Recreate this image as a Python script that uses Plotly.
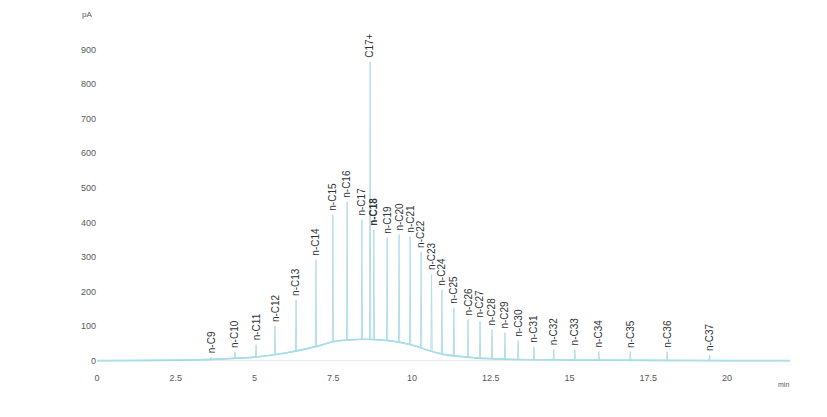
import numpy as np
import plotly.graph_objects as go

# Retention times (min), peak heights (pA) and peak names
peak_names = ["n-C9", "n-C10", "n-C11", "n-C12", "n-C13", "n-C14", "n-C15", "n-C16",
              "n-C17", "C17+", "n-C18", "n-C19", "n-C20", "n-C21", "n-C22", "n-C23",
              "n-C24", "n-C25", "n-C26", "n-C27", "n-C28", "n-C29", "n-C30", "n-C31",
              "n-C32", "n-C33", "n-C34", "n-C35", "n-C36", "n-C37"]
peak_times = [3.62, 4.38, 5.05, 5.65, 6.32, 6.95, 7.49, 7.94,
              8.41, 8.67, 8.79, 9.21, 9.59, 9.94, 10.29, 10.62,
              10.95, 11.33, 11.78, 12.16, 12.54, 12.95, 13.37, 13.87,
              14.50, 15.17, 15.93, 16.93, 18.10, 19.45]
peak_heights = [10, 25, 46, 100, 176, 292, 422, 460,
                408, 865, 378, 356, 365, 359, 315, 249,
                205, 153, 119, 113, 90, 81, 58, 40,
                32, 32, 26, 26, 26, 15]

# Unresolved complex mixture hump under the peaks
ucm_times = [0, 3, 4, 5, 6, 7, 7.5, 8, 8.5, 9, 9.5, 10, 10.5, 11, 12, 13, 15, 20, 22]
ucm_values = [0, 2, 5, 10, 22, 42, 55, 60, 62, 60, 55, 45, 30, 18, 8, 4, 2, 0, 0]

x_ticks = [0, 2.5, 5, 7.5, 10, 12.5, 15, 17.5, 20]
x_tick_text = ["0", "2.5", "5", "7.5", "10", "12.5", "15", "17.5", "20"]
y_ticks = [0, 100, 200, 300, 400, 500, 600, 700, 800, 900]

# Build the chromatogram trace: narrow peaks riding on the hump
half_width = 0.02
sig_t, sig_y = [0.0], [0.0]
for t, h in zip(peak_times, peak_heights):
    for tt, yy in ((t - half_width, None), (t, h), (t + half_width, None)):
        sig_t.append(tt)
        sig_y.append(yy if yy is not None else float(np.interp(tt, ucm_times, ucm_values)))
sig_t.append(22.0)
sig_y.append(0.0)

fig = go.Figure()
fig.add_trace(go.Scatter(x=ucm_times, y=ucm_values, mode="lines",
                         line=dict(color="#8fdbe6", width=1.6, shape="spline"),
                         hoverinfo="skip", showlegend=False))
fig.add_trace(go.Scatter(x=sig_t, y=sig_y, mode="lines",
                         line=dict(color="#b5dde8", width=1),
                         showlegend=False))

for name, t, h in zip(peak_names, peak_times, peak_heights):
    label = "<b>" + name + "</b>" if name == "n-C18" else name
    fig.add_annotation(x=t, y=h, text=label, textangle=-90, showarrow=False,
                       xanchor="center", yanchor="bottom", yshift=2,
                       font=dict(family="Liberation Sans, Arial", size=10, color="#2f3535"))

fig.add_annotation(xref="paper", yref="paper", x=-0.005, y=1.0, text="pA",
                   showarrow=False, xanchor="right", yanchor="bottom", yshift=-6,
                   font=dict(family="Liberation Sans, Arial", size=8, color="#555b5b"))
fig.add_annotation(x=21.8, y=-30, text="min", showarrow=False,
                   xanchor="center", yanchor="top", yshift=-8,
                   font=dict(family="Liberation Sans, Arial", size=7, color="#555b5b"))

fig.update_layout(
    width=827, height=417,
    margin=dict(l=97, r=37, t=15, b=46),
    paper_bgcolor="white", plot_bgcolor="white",
    font=dict(family="Liberation Sans, Arial", size=9, color="#555b5b"),
    xaxis=dict(range=[0, 22], tickvals=x_ticks, ticktext=x_tick_text,
               showgrid=False, zeroline=False, showline=False, ticks=""),
    yaxis=dict(range=[-30, 1000], tickvals=y_ticks, showgrid=False,
               zeroline=True, zerolinecolor="#e4ecec", zerolinewidth=1,
               showline=False, ticks=""),
)

fig.write_html("out.html")
